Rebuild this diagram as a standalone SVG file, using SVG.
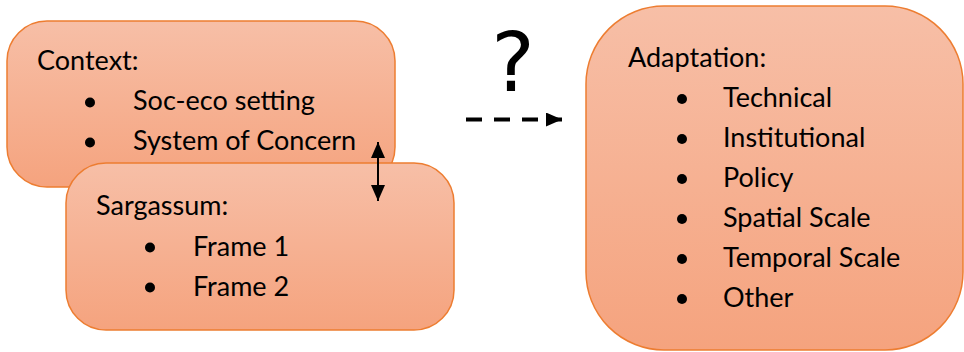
<svg xmlns="http://www.w3.org/2000/svg" width="964" height="352" viewBox="0 0 964 352">
  <defs>
    <linearGradient id="boxFill" x1="0" y1="0" x2="0" y2="1">
      <stop offset="0" stop-color="#F7BFA7"/>
      <stop offset="1" stop-color="#F5A37E"/>
    </linearGradient>
    <marker id="triBig" viewBox="0 0 16 14" refX="16" refY="7" markerWidth="16" markerHeight="14" markerUnits="userSpaceOnUse" orient="auto-start-reverse">
      <path d="M0,0 L16,7 L0,14 Z" fill="#000"/>
    </marker>
  </defs>
  <style>
    .box { fill: url(#boxFill); stroke: #ED7D31; stroke-width: 1.5; }
    .txt { font-family: Lato, "Open Sans", "Liberation Sans", sans-serif; font-size: 27px; fill: #000; }
    .dot { fill: #000; }
  </style>

  <g id="context">
    <rect class="box" x="7" y="21" width="388" height="166" rx="40" ry="40"/>
    <text class="txt" x="37" y="70">Context:</text>
    <circle class="dot" cx="90" cy="102.5" r="5"/>
    <text class="txt" x="133" y="110">Soc-eco setting</text>
    <circle class="dot" cx="90" cy="142.5" r="5"/>
    <text class="txt" x="133" y="150">System of Concern</text>
  </g>

  <g id="sargassum">
    <rect class="box" x="66" y="163" width="388" height="167" rx="40" ry="40"/>
    <text class="txt" x="96" y="215">Sargassum:</text>
    <circle class="dot" cx="150" cy="247.5" r="5"/>
    <text class="txt" x="193" y="256">Frame 1</text>
    <circle class="dot" cx="150" cy="287.5" r="5"/>
    <text class="txt" x="193" y="296">Frame 2</text>
  </g>

  <g id="adaptation">
    <rect class="box" x="586" y="6" width="377" height="344" rx="78" ry="78"/>
    <text class="txt" x="628" y="67">Adaptation:</text>
    <circle class="dot" cx="682" cy="99" r="5"/>
    <text class="txt" x="723" y="107">Technical</text>
    <circle class="dot" cx="682" cy="139" r="5"/>
    <text class="txt" x="723" y="147">Institutional</text>
    <circle class="dot" cx="682" cy="179" r="5"/>
    <text class="txt" x="723" y="187">Policy</text>
    <circle class="dot" cx="682" cy="219" r="5"/>
    <text class="txt" x="723" y="227">Spatial Scale</text>
    <circle class="dot" cx="682" cy="259" r="5"/>
    <text class="txt" x="723" y="267">Temporal Scale</text>
    <circle class="dot" cx="682" cy="299" r="5"/>
    <text class="txt" x="723" y="307">Other</text>
  </g>

  <g id="connectors">
    <!-- two-way link between context and sargassum -->
    <line x1="378" y1="142" x2="378" y2="201" stroke="#000" stroke-width="2" marker-start="url(#triBig)" marker-end="url(#triBig)"/>
    <!-- open question: dashed link toward adaptation -->
    <line x1="466" y1="119.5" x2="562" y2="119.5" stroke="#000" stroke-width="4" stroke-dasharray="16 12" marker-end="url(#triBig)"/>
    <text x="513" y="91" text-anchor="middle" font-family="'DejaVu Sans', sans-serif" font-size="82" fill="#000">?</text>
  </g>
</svg>
